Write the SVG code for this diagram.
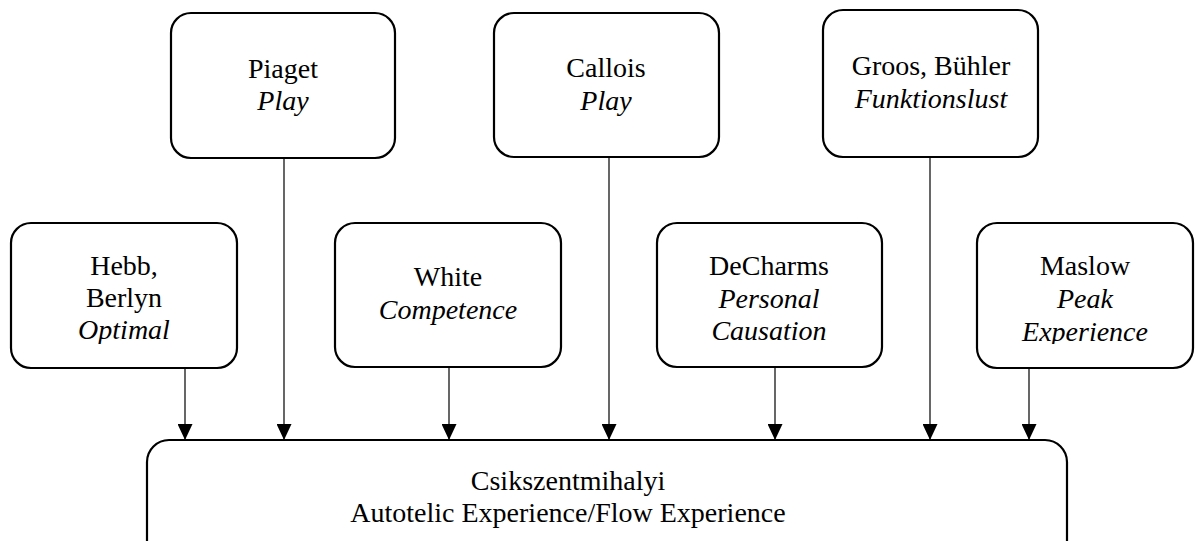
<svg xmlns="http://www.w3.org/2000/svg" width="1195" height="541" viewBox="0 0 1195 541">
<style>
.box{fill:#fff;stroke:#000;stroke-width:2.2}
.c{stroke:#000;stroke-width:1.2;fill:none;marker-end:url(#ah)}
</style>
<defs>
<marker id="ah" markerWidth="16" markerHeight="15" refX="16" refY="7.5" orient="auto" markerUnits="userSpaceOnUse">
<path d="M0,0 L16,7.5 L0,15 Z" fill="#000"/>
</marker>
<clipPath id="clipH"><rect x="0" y="220" width="1195" height="124"/></clipPath>
</defs>
<g id="connectors">
<line class="c" x1="185" y1="368" x2="185" y2="440"/>
<line class="c" x1="284" y1="158" x2="284" y2="440"/>
<line class="c" x1="449" y1="367" x2="449" y2="440"/>
<line class="c" x1="609" y1="157" x2="609" y2="440"/>
<line class="c" x1="775" y1="367" x2="775" y2="440"/>
<line class="c" x1="930" y1="157" x2="930" y2="440"/>
<line class="c" x1="1029" y1="368" x2="1029" y2="440"/>
</g>
<g id="piaget">
<rect class="box" x="171" y="13" width="224" height="145" rx="20"/>
<text x="283" y="78" font-family="Liberation Serif" font-size="28" text-anchor="middle">Piaget</text>
<text x="283" y="110" font-family="Liberation Serif" font-size="28" text-anchor="middle" font-style="italic">Play</text>
</g>
<g id="callois">
<rect class="box" x="494" y="13" width="225" height="144" rx="20"/>
<text x="606" y="77" font-family="Liberation Serif" font-size="28" text-anchor="middle">Callois</text>
<text x="606" y="110" font-family="Liberation Serif" font-size="28" text-anchor="middle" font-style="italic">Play</text>
</g>
<g id="groos">
<rect class="box" x="823" y="10" width="215" height="147" rx="20"/>
<text x="931" y="75" font-family="Liberation Serif" font-size="28" text-anchor="middle">Groos, Bühler</text>
<text x="931" y="108" font-family="Liberation Serif" font-size="28" text-anchor="middle" font-style="italic">Funktionslust</text>
</g>
<g id="hebb">
<rect class="box" x="11" y="223" width="226" height="145" rx="20"/>
<g clip-path="url(#clipH)">
<text x="124" y="275" font-family="Liberation Serif" font-size="28" text-anchor="middle">Hebb,</text>
<text x="124" y="307" font-family="Liberation Serif" font-size="28" text-anchor="middle">Berlyn</text>
<text x="124" y="339" font-family="Liberation Serif" font-size="28" text-anchor="middle" font-style="italic">Optimal</text>
</g>
</g>
<g id="white">
<rect class="box" x="335" y="223" width="226" height="144" rx="20"/>
<text x="448" y="286" font-family="Liberation Serif" font-size="28" text-anchor="middle">White</text>
<text x="448" y="319" font-family="Liberation Serif" font-size="28" text-anchor="middle" font-style="italic">Competence</text>
</g>
<g id="decharms">
<rect class="box" x="657" y="223" width="225" height="144" rx="20"/>
<text x="769" y="275" font-family="Liberation Serif" font-size="28" text-anchor="middle">DeCharms</text>
<text x="769" y="308" font-family="Liberation Serif" font-size="28" text-anchor="middle" font-style="italic">Personal</text>
<text x="769" y="340" font-family="Liberation Serif" font-size="28" text-anchor="middle" font-style="italic">Causation</text>
</g>
<g id="maslow">
<rect class="box" x="977" y="223" width="216" height="145" rx="20"/>
<g clip-path="url(#clipH)">
<text x="1085" y="275" font-family="Liberation Serif" font-size="28" text-anchor="middle">Maslow</text>
<text x="1085" y="308" font-family="Liberation Serif" font-size="28" text-anchor="middle" font-style="italic">Peak</text>
<text x="1085" y="341" font-family="Liberation Serif" font-size="28" text-anchor="middle" font-style="italic">Experience</text>
</g>
</g>
<g id="csikszentmihalyi">
<rect class="box" x="147" y="440" width="920" height="130" rx="22"/>
<text x="568" y="490" font-family="Liberation Serif" font-size="28" text-anchor="middle">Csikszentmihalyi</text>
<text x="568" y="522" font-family="Liberation Serif" font-size="28" text-anchor="middle">Autotelic Experience/Flow Experience</text>
</g>
</svg>
